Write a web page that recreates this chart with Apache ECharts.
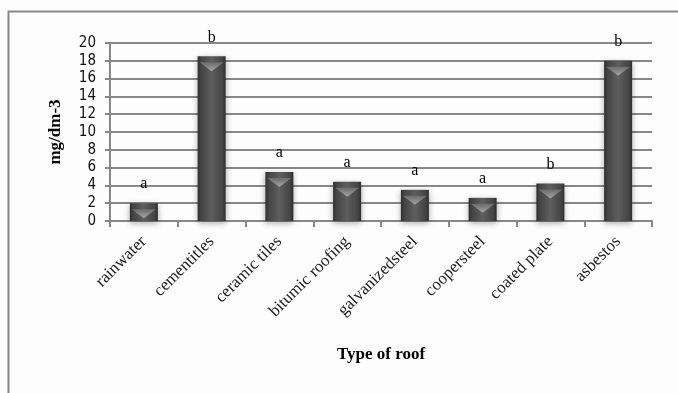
<!DOCTYPE html>
<html>
<head>
<meta charset="utf-8">
<script src="https://cdn.jsdelivr.net/npm/echarts@6/dist/echarts.min.js"></script>
<style>html,body{margin:0;padding:0;background:#fff}#c{width:678px;height:393px}</style>
</head>
<body>
<div id="c"></div>
<script>
const categories = ['rainwater', 'cementitles', 'ceramic tiles', 'bitumic roofing', 'galvanizedsteel', 'coopersteel', 'coated plate', 'asbestos'];
const values = [2.0, 18.5, 5.5, 4.4, 3.5, 2.6, 4.2, 18.0];
const letters = ['a', 'b', 'a', 'a', 'a', 'a', 'b', 'b'];
const yTicks = [0, 2, 4, 6, 8, 10, 12, 14, 16, 18, 20];

const chart = echarts.init(document.getElementById('c'), null, {renderer: 'canvas'});
chart.setOption({
  backgroundColor: '#fdfdfd',
  animation: false,
  graphic: [
    {type: 'polyline', shape: {points: [[8.5, 393], [8.5, 11.5], [678, 11.5]]}, style: {stroke: '#888', lineWidth: 2, fill: null}}
  ],
  grid: {left: 110, right: 26, top: 43, bottom: 172},
  xAxis: {
    type: 'category',
    data: categories,
    name: 'Type of roof',
    nameLocation: 'middle',
    nameGap: 125,
    nameTextStyle: {fontFamily: 'Liberation Serif', fontWeight: 'bold', fontSize: 17, color: '#000'},
    axisLine: {lineStyle: {color: '#888', width: 2}},
    axisTick: {show: true, length: 6, lineStyle: {color: '#888', width: 2}},
    axisLabel: {rotate: 45, fontFamily: 'Liberation Serif', fontSize: 17, color: '#222', margin: 18, interval: 0}
  },
  yAxis: {
    type: 'value',
    min: 0, max: 20, interval: 2,
    name: 'mg/dm-3',
    nameLocation: 'middle',
    nameGap: 46,
    nameTextStyle: {fontFamily: 'Liberation Serif', fontWeight: 'bold', fontSize: 17, color: '#000'},
    axisLine: {show: true, lineStyle: {color: '#888', width: 2}},
    axisTick: {show: true, length: 5, lineStyle: {color: '#888', width: 2}},
    axisLabel: {fontFamily: 'DejaVu Sans Condensed, DejaVu Sans', fontSize: 15, color: '#111', margin: 14,
      formatter: v => yTicks.includes(v) ? String(v) : ''},
    splitLine: {lineStyle: {color: '#888', width: 2}}
  },
  series: [
    {
      type: 'bar',
      data: values,
      barWidth: 28,
      itemStyle: {
        color: new echarts.graphic.LinearGradient(0, 0, 1, 0, [
          {offset: 0, color: '#2e2e2e'},
          {offset: 0.12, color: '#444'},
          {offset: 0.5, color: '#5e5e5e'},
          {offset: 0.88, color: '#444'},
          {offset: 1, color: '#2e2e2e'}
        ]),
        shadowColor: 'rgba(0,0,0,0.35)', shadowBlur: 6, shadowOffsetY: 2
      },
      label: {
        show: true, position: 'top', distance: 11,
        fontFamily: 'Liberation Serif', fontSize: 16, color: '#000',
        formatter: p => letters[p.dataIndex]
      },
      z: 2
    },
    {
      type: 'pictorialBar',
      data: values,
      symbol: 'triangle',
      symbolRotate: 180,
      symbolSize: [24, 9],
      symbolPosition: 'end',
      symbolOffset: [0, 6],
      itemStyle: {color: new echarts.graphic.LinearGradient(0, 0, 0, 1, [
        {offset: 0, color: '#a8a8a8'}, {offset: 1, color: '#6a6a6a'}
      ])},
      z: 3,
      silent: true
    }
  ]
});
</script>
</body>
</html>
